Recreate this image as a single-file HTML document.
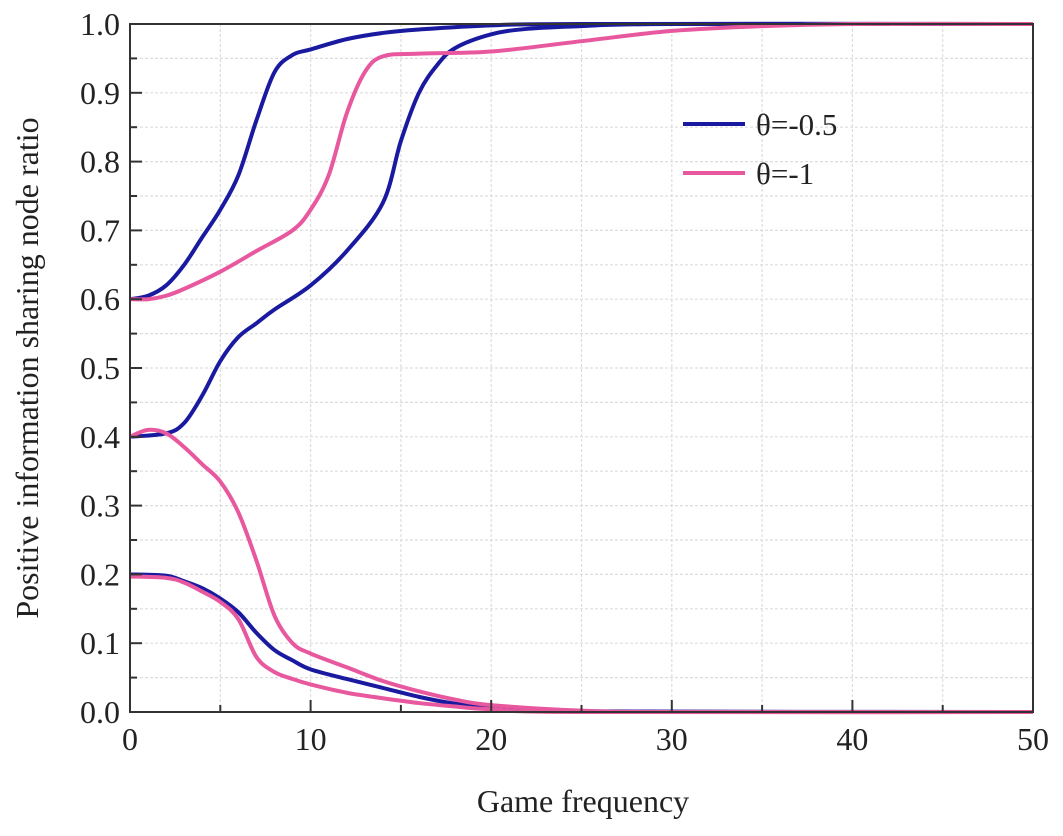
<!DOCTYPE html>
<html><head><meta charset="utf-8"><style>
body{margin:0;background:#fff;}
svg text{font-family:"Liberation Serif",serif;fill:#222;}
</style></head><body>
<svg id="chart" width="1063" height="831">
<g id="grid"></g>
<g id="series"></g>
<g id="axes"></g>
<text x="583" y="812" font-size="32" text-anchor="middle">Game frequency</text>
<text transform="translate(38,368) rotate(-90)" font-size="32" text-anchor="middle">Positive information sharing node ratio</text>
<g>
<line x1="683" y1="124" x2="745" y2="124" stroke="#1a1aa0" stroke-width="4"/>
<text x="756" y="135" font-size="31">θ=-0.5</text>
<line x1="683" y1="173" x2="745" y2="173" stroke="#e8589e" stroke-width="4"/>
<text x="756" y="184" font-size="31">θ=-1</text>
</g>
</svg>
<script>
const xTicks=[0,10,20,30,40,50];
const yTicks=[0.0,0.1,0.2,0.3,0.4,0.5,0.6,0.7,0.8,0.9,1.0];
const blueX1=[0,1,2,3,4,5,6,7,8,9,10,12,14,16,20,25,50];
const blueY1=[0.6,0.605,0.62,0.65,0.69,0.73,0.78,0.86,0.93,0.955,0.963,0.978,0.987,0.992,0.998,1,1];
const pinkX1=[0,1,2,3,5,7,9,10,11,12,13,14,16,20,25,30,35,40,50];
const pinkY1=[0.6,0.6,0.605,0.615,0.64,0.67,0.70,0.73,0.78,0.87,0.93,0.953,0.957,0.96,0.975,0.99,0.997,1,1];
const blueX2=[0,2,3,4,5,6,7,8,10,12,14,15,16,17,18,20,22,25,30,50];
const blueY2=[0.4,0.405,0.42,0.46,0.51,0.545,0.565,0.585,0.62,0.67,0.74,0.83,0.9,0.94,0.965,0.985,0.993,0.997,1,1];
const pinkX2=[0,1,2,3,4,5,6,7,8,9,10,12,14,16,18,20,25,30,50];
const pinkY2=[0.4,0.41,0.405,0.385,0.36,0.335,0.29,0.22,0.14,0.1,0.085,0.065,0.045,0.03,0.018,0.01,0.002,0,0];
const blueX3=[0,2,3,4,5,6,7,8,9,10,12,14,16,18,20,25,50];
const blueY3=[0.2,0.198,0.19,0.18,0.165,0.145,0.115,0.09,0.075,0.062,0.048,0.035,0.022,0.012,0.006,0.001,0];
const pinkX3=[0,2,3,4,5,6,7,8,9,10,12,14,16,18,20,25,50];
const pinkY3=[0.197,0.195,0.188,0.175,0.16,0.135,0.08,0.058,0.048,0.04,0.028,0.02,0.013,0.008,0.004,0,0];

const L=130,R=1033,T=24,B=712;
const xs=v=>L+(v/50)*(R-L);
const ys=v=>B-v*(B-T);
const NS='http://www.w3.org/2000/svg';
function mk(tag,attrs,parent){const e=document.createElementNS(NS,tag);for(const k in attrs)e.setAttribute(k,attrs[k]);parent.appendChild(e);return e;}
const grid=document.getElementById('grid'),axes=document.getElementById('axes'),series=document.getElementById('series');
for(let v=0;v<=50;v+=5){const g=mk('line',{x1:xs(v),x2:xs(v),y1:T,y2:B,stroke:'#ddd','stroke-width':1.2,'stroke-dasharray':'3,2'},grid);

}
for(let i=0;i<=20;i++){const v=i*0.05;const g=mk('line',{x1:L,x2:R,y1:ys(v),y2:ys(v),stroke:'#ddd','stroke-width':1.2,'stroke-dasharray':'3,2'},grid);

}
const fr=mk('rect',{x:L,y:T,width:R-L,height:B-T,fill:'none',stroke:'#333','stroke-width':2},axes);


for(let v=0;v<=50;v+=5){const major=v%10===0;const t=mk('line',{x1:xs(v),x2:xs(v),y1:B,y2:B-(major?12:7),stroke:'#333','stroke-width':2},axes);

}
xTicks.forEach(v=>{const t=mk('text',{x:xs(v),y:B+38,'font-size':32,'text-anchor':'middle'},axes);t.textContent=v;

});
for(let i=0;i<=20;i++){const v=i*0.05;const t=mk('line',{x1:L,x2:L+(i%2===0?12:7),y1:ys(v),y2:ys(v),stroke:'#333','stroke-width':2},axes);

}
yTicks.forEach(v=>{const t=mk('text',{x:L-10,y:ys(v)+11,'font-size':32,'text-anchor':'end'},axes);t.textContent=v.toFixed(1);

});
function pathD(X,Y){const p=X.map((x,i)=>[xs(x),ys(Y[i])]);let d='M'+p[0][0]+','+p[0][1];
for(let i=0;i<p.length-1;i++){const p0=p[i-1]||p[i],p1=p[i],p2=p[i+1],p3=p[i+2]||p2;
const c1=[p1[0]+(p2[0]-p0[0])/6,p1[1]+(p2[1]-p0[1])/6],c2=[p2[0]-(p3[0]-p1[0])/6,p2[1]-(p3[1]-p1[1])/6];
d+=' C'+c1+' '+c2+' '+p2;}return d;}
const list=[[blueX1,blueY1,'#1a1aa0','blue-curve-start-06'],[blueX2,blueY2,'#1a1aa0','blue-curve-start-04'],[blueX3,blueY3,'#1a1aa0','blue-curve-start-02'],
[pinkX1,pinkY1,'#e8589e','pink-curve-start-06'],[pinkX2,pinkY2,'#e8589e','pink-curve-start-04'],[pinkX3,pinkY3,'#e8589e','pink-curve-start-02']];
list.forEach(s=>{const p=mk('path',{d:pathD(s[0],s[1]),fill:'none',stroke:s[2],'stroke-width':4,'stroke-linejoin':'round'},series);

});
</script>
</body></html>
